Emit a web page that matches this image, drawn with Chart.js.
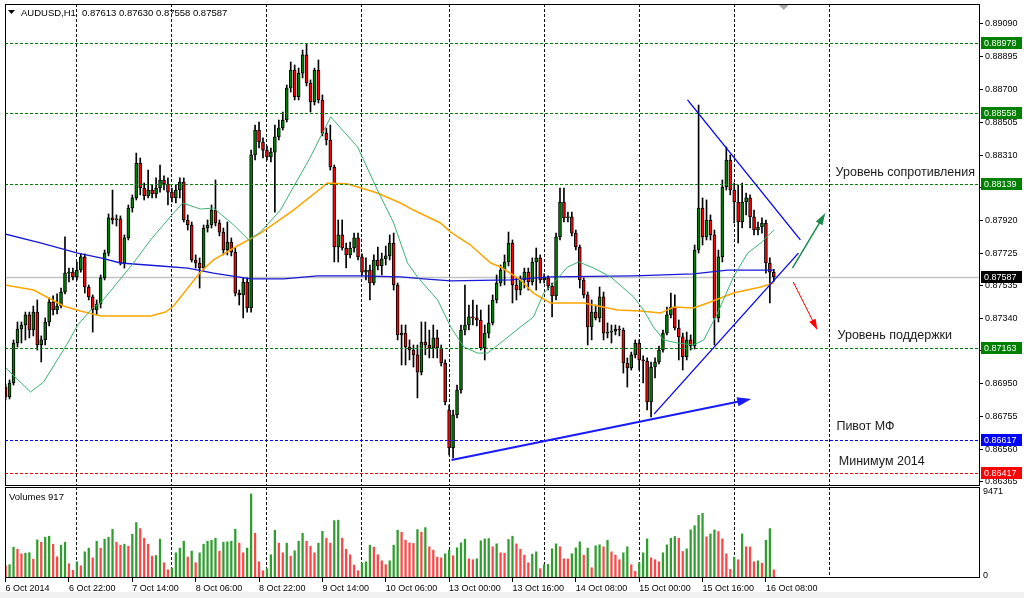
<!DOCTYPE html>
<html>
<head>
<meta charset="utf-8">
<title>AUDUSD H1</title>
<script src="https://cdn.jsdelivr.net/npm/chart.js@4.4.1/dist/chart.umd.min.js"></script>
<style>
  html, body { margin: 0; padding: 0; background: #fff; }
  #wrap { position: relative; width: 1024px; height: 598px; overflow: hidden; background: #fff; }
  #priceCanvas { position: absolute; left: 0; top: 0; }
  #volCanvas { position: absolute; left: 0; top: 487px; }
  #statusStrip { position: absolute; left: 0; top: 592px; width: 1024px; height: 6px; background: #f0f0f0; }
</style>
</head>
<body>
<div id="wrap">
  <canvas id="priceCanvas" width="1024" height="487"></canvas>
  <canvas id="volCanvas" width="1024" height="111"></canvas>
  <div id="statusStrip"></div>
</div>
<script>
// AUDUSD H1, bar 0 = 6 Oct 2014 06:00, one bar per hour
var opens = [
  0.86930,0.86871,0.86954,0.87192,0.87275,0.87299,0.87359,0.87269,0.87376,0.87180,
  0.87210,0.87317,0.87436,0.87388,0.87412,0.87495,0.87608,0.87614,0.87585,0.87626,
  0.87704,0.87525,0.87466,0.87388,0.87424,0.87579,0.87727,0.87936,0.87924,0.87930,
  0.87668,0.87817,0.87995,0.88055,0.88263,0.88114,0.88067,0.88102,0.88079,0.88114,
  0.88162,0.88138,0.88090,0.88055,0.88102,0.88150,0.87924,0.87894,0.87686,0.87668,
  0.87638,0.87876,0.87894,0.87983,0.87906,0.87852,0.87745,0.87793,0.87733,0.87489,
  0.87478,0.87555,0.87400,0.88311,0.88459,0.88388,0.88340,0.88299,0.88328,0.88418,
  0.88471,0.88519,0.88709,0.88816,0.88656,0.88798,0.88906,0.88739,0.88626,0.88816,
  0.88638,0.88441,0.88400,0.88239,0.87763,0.87835,0.87757,0.87716,0.87757,0.87817,
  0.87704,0.87614,0.87626,0.87549,0.87686,0.87650,0.87692,0.87710,0.87787,0.87537,
  0.87240,0.87251,0.87168,0.87150,0.87121,0.87019,0.87198,0.87180,0.87162,0.87222,
  0.87162,0.87073,0.86793,0.86567,0.86764,0.86912,0.87269,0.87299,0.87347,0.87341,
  0.87329,0.87162,0.87251,0.87311,0.87448,0.87549,0.87626,0.87674,0.87787,0.87537,
  0.87507,0.87567,0.87614,0.87555,0.87674,0.87698,0.87567,0.87579,0.87531,0.87472,
  0.87823,0.88031,0.87936,0.87942,0.87846,0.87763,0.87567,0.87478,0.87287,0.87376,
  0.87341,0.87466,0.87251,0.87257,0.87263,0.87275,0.87269,0.87073,0.87043,0.87121,
  0.87192,0.87091,0.87085,0.86841,0.87049,0.87079,0.87150,0.87251,0.87359,0.87406,
  0.87281,0.87228,0.87109,0.87210,0.87174,0.87745,0.87995,0.87823,0.87924,0.87835,
  0.87341,0.87704,0.88120,0.88281,0.88102,0.88031,0.87912,0.88031,0.88055,0.87942,
  0.87864,0.87882,0.87906,0.87668,0.87613
];
var highs = [
  0.86948,0.86972,0.87210,0.87317,0.87317,0.87376,0.87376,0.87412,0.87448,0.87234,
  0.87341,0.87460,0.87472,0.87484,0.87519,0.87823,0.87638,0.87638,0.87674,0.87722,
  0.87722,0.87537,0.87478,0.87448,0.87597,0.87745,0.87960,0.88102,0.87954,0.87948,
  0.87835,0.88013,0.88073,0.88322,0.88293,0.88144,0.88221,0.88132,0.88174,0.88251,
  0.88186,0.88174,0.88114,0.88132,0.88174,0.88174,0.87954,0.87912,0.87716,0.87698,
  0.87894,0.87924,0.88013,0.88162,0.87924,0.87876,0.87912,0.87817,0.87757,0.87507,
  0.87579,0.87579,0.88340,0.88489,0.88507,0.88412,0.88364,0.88352,0.88489,0.88519,
  0.88566,0.88727,0.88864,0.88846,0.88828,0.88935,0.88971,0.88757,0.88828,0.88876,
  0.88668,0.88471,0.88489,0.88251,0.87924,0.87924,0.87787,0.87793,0.87846,0.87846,
  0.87722,0.87698,0.87656,0.87716,0.87763,0.87727,0.87769,0.87835,0.87846,0.87549,
  0.87299,0.87299,0.87210,0.87180,0.87180,0.87317,0.87317,0.87269,0.87299,0.87269,
  0.87180,0.87091,0.86823,0.86793,0.86942,0.87299,0.87537,0.87418,0.87448,0.87418,
  0.87388,0.87299,0.87418,0.87478,0.87597,0.87656,0.87716,0.87852,0.87805,0.87579,
  0.87591,0.87638,0.87638,0.87698,0.87757,0.87716,0.87603,0.87591,0.87549,0.87846,
  0.88114,0.88114,0.87971,0.87971,0.87864,0.87775,0.87579,0.87495,0.87448,0.87418,
  0.87525,0.87495,0.87311,0.87299,0.87299,0.87293,0.87281,0.87103,0.87138,0.87210,
  0.87210,0.87115,0.87103,0.87079,0.87103,0.87174,0.87269,0.87406,0.87489,0.87478,
  0.87329,0.87251,0.87257,0.87240,0.87775,0.88608,0.88055,0.88043,0.87954,0.87864,
  0.87745,0.88162,0.88358,0.88311,0.88144,0.88132,0.88144,0.88084,0.88073,0.87983,
  0.87912,0.87936,0.87924,0.87698,0.87630
];
var lows = [
  0.86853,0.86859,0.86942,0.87168,0.87192,0.87210,0.87222,0.87234,0.87150,0.87079,
  0.87180,0.87293,0.87359,0.87365,0.87400,0.87484,0.87555,0.87567,0.87567,0.87614,
  0.87489,0.87448,0.87257,0.87359,0.87400,0.87567,0.87710,0.87900,0.87888,0.87656,
  0.87638,0.87805,0.87971,0.88043,0.88073,0.88043,0.88055,0.88055,0.88055,0.88090,
  0.88102,0.88013,0.88031,0.88025,0.88055,0.87912,0.87864,0.87674,0.87638,0.87519,
  0.87626,0.87852,0.87876,0.87888,0.87829,0.87716,0.87716,0.87710,0.87472,0.87418,
  0.87341,0.87376,0.87376,0.88281,0.88352,0.88293,0.88281,0.88269,0.87971,0.88400,
  0.88459,0.88507,0.88685,0.88638,0.88638,0.88769,0.88721,0.88566,0.88608,0.88620,
  0.88424,0.88370,0.88221,0.87674,0.87674,0.87745,0.87638,0.87698,0.87733,0.87686,
  0.87597,0.87567,0.87448,0.87537,0.87626,0.87597,0.87656,0.87686,0.87507,0.87210,
  0.87061,0.87061,0.87091,0.87049,0.86865,0.87002,0.87121,0.87103,0.87103,0.87103,
  0.87055,0.86823,0.86526,0.86508,0.86746,0.86894,0.87240,0.87269,0.87299,0.87293,
  0.87150,0.87091,0.87222,0.87299,0.87430,0.87531,0.87537,0.87650,0.87430,0.87448,
  0.87478,0.87519,0.87507,0.87537,0.87507,0.87549,0.87549,0.87507,0.87347,0.87448,
  0.87805,0.87912,0.87912,0.87829,0.87745,0.87519,0.87460,0.87180,0.87210,0.87329,
  0.87317,0.87210,0.87222,0.87192,0.87240,0.87234,0.87013,0.86930,0.87031,0.87103,
  0.87031,0.86954,0.86793,0.86752,0.86984,0.87067,0.87138,0.87240,0.87341,0.87269,
  0.87091,0.87031,0.87091,0.87150,0.87156,0.87727,0.87775,0.87805,0.87805,0.87180,
  0.87317,0.87674,0.88102,0.88073,0.87906,0.87787,0.87876,0.87954,0.87876,0.87835,
  0.87835,0.87846,0.87608,0.87430,0.87558
];
var closes = [
  0.86871,0.86954,0.87192,0.87275,0.87299,0.87359,0.87269,0.87376,0.87180,0.87210,
  0.87317,0.87436,0.87388,0.87412,0.87495,0.87608,0.87614,0.87585,0.87626,0.87704,
  0.87525,0.87466,0.87388,0.87424,0.87579,0.87727,0.87936,0.87924,0.87930,0.87668,
  0.87817,0.87995,0.88055,0.88263,0.88114,0.88067,0.88102,0.88079,0.88114,0.88162,
  0.88138,0.88090,0.88055,0.88102,0.88150,0.87924,0.87894,0.87686,0.87668,0.87638,
  0.87876,0.87894,0.87983,0.87906,0.87852,0.87745,0.87793,0.87733,0.87489,0.87478,
  0.87555,0.87400,0.88311,0.88459,0.88388,0.88340,0.88299,0.88328,0.88418,0.88471,
  0.88519,0.88709,0.88816,0.88656,0.88798,0.88906,0.88739,0.88626,0.88816,0.88638,
  0.88441,0.88400,0.88239,0.87763,0.87835,0.87757,0.87716,0.87757,0.87817,0.87704,
  0.87614,0.87626,0.87549,0.87686,0.87650,0.87692,0.87710,0.87787,0.87537,0.87240,
  0.87251,0.87168,0.87150,0.87121,0.87019,0.87198,0.87180,0.87162,0.87222,0.87162,
  0.87073,0.86841,0.86567,0.86764,0.86912,0.87269,0.87299,0.87347,0.87341,0.87329,
  0.87162,0.87251,0.87311,0.87448,0.87549,0.87626,0.87674,0.87787,0.87537,0.87507,
  0.87567,0.87614,0.87555,0.87674,0.87698,0.87567,0.87579,0.87531,0.87472,0.87823,
  0.88031,0.87936,0.87942,0.87846,0.87763,0.87567,0.87478,0.87287,0.87376,0.87341,
  0.87466,0.87251,0.87257,0.87263,0.87275,0.87269,0.87073,0.87043,0.87121,0.87192,
  0.87091,0.87085,0.86841,0.87049,0.87079,0.87150,0.87251,0.87359,0.87406,0.87281,
  0.87228,0.87109,0.87210,0.87174,0.87745,0.87995,0.87823,0.87924,0.87835,0.87341,
  0.87704,0.88120,0.88281,0.88102,0.88031,0.87912,0.88031,0.88055,0.87942,0.87864,
  0.87882,0.87906,0.87668,0.87614,0.87587
];
var volumes = [
  1380,1500,3480,3250,2730,2800,2850,2130,4300,4040,
  4600,4710,3810,2390,3700,4040,1610,860,1830,1380,
  2950,3370,2280,4150,3370,4380,4600,5500,4040,3700,
  3810,3590,4940,6250,5570,4490,3810,2470,2540,4380,
  1720,935,1120,2840,3370,4150,2360,3030,1720,2840,
  3810,4150,4260,4490,3030,4040,4080,4150,5500,3930,
  2840,3370,9471,5050,1830,820,1050,2620,5390,3930,
  2840,3930,2470,3070,4150,5050,4150,3590,2840,3930,
  5270,4490,3930,6470,6520,4490,3250,2620,1460,820,
  1680,1830,3700,3480,2620,1940,1500,1940,3700,5390,
  5160,4260,3960,3900,5460,5160,5680,3520,3140,2360,
  2280,2730,3140,2510,3400,3960,4380,2170,2060,2170,
  4190,4410,4450,3520,3850,2840,2800,4340,4710,3850,
  3250,2580,1720,2690,2950,1050,1500,1530,3290,3850,
  3520,2170,2150,2730,3400,4080,2580,3370,1160,3630,
  3740,3520,4260,2950,2580,2060,2840,3520,1500,750,
  1720,2840,4410,2280,2060,1830,2840,3740,4490,4680,
  4490,2990,3290,5420,5900,7070,7290,4640,4970,5420,
  5240,4410,2730,970,2360,2060,4970,3520,3500,1830,
  1940,1680,4260,5570,917
];

// moving averages: [bar, price]
var maFast = [
  [-0.2,0.87049],[6.3,0.86900],[9.6,0.86960],[15.7,0.87192],[18.2,0.87299],[22.2,0.87406],[24,0.87430],
  [32.3,0.87668],[36.6,0.87805],[42.4,0.87965],[44.7,0.88025],[49.2,0.87989],[52.5,0.87995],[57.6,0.87894],
  [61.4,0.87805],[64.4,0.87852],[69.4,0.87983],[77,0.88299],[80,0.88441],[82.1,0.88537],[88.9,0.88358],
  [90.4,0.88281],[93.9,0.88102],[98,0.87906],[101.5,0.87668],[104,0.87585],[109.1,0.87448],[112.4,0.87287],
  [115.7,0.87168],[119.2,0.87132],[121.7,0.87132],[125,0.87192],[130,0.87287],[133.3,0.87347],[135.9,0.87489],
  [138.4,0.87549],[141.9,0.87644],[144.7,0.87674],[148.5,0.87638],[152.8,0.87585],[158.6,0.87466],[161.1,0.87388],
  [163.6,0.87287],[166.2,0.87210],[169.7,0.87192],[173.7,0.87180],[176.3,0.87210],[179.8,0.87370],[183.8,0.87585],
  [187.4,0.87727],[190.7,0.87787],[194,0.87864]
];
var maMid = [
  [-0.2,0.87537],[7.1,0.87507],[14.6,0.87412],[18.9,0.87382],[24,0.87353],[36.6,0.87353],[40.4,0.87376],
  [42.4,0.87412],[49.2,0.87614],[52.5,0.87686],[57.6,0.87757],[64.4,0.87846],[72.7,0.87983],[81.3,0.88144],
  [86.4,0.88138],[93.9,0.88084],[99.7,0.88025],[103,0.87983],[109.8,0.87906],[112.4,0.87852],[117.4,0.87775],
  [122.5,0.87668],[125,0.87644],[130,0.87567],[133.3,0.87489],[137.6,0.87430],[146,0.87430],[154.5,0.87388],
  [160.4,0.87382],[165.4,0.87370],[168.7,0.87406],[173.7,0.87400],[177.3,0.87430],[183.8,0.87489],
  [190.7,0.87525],[194,0.87549]
];
var maSlow = [
  [-0.2,0.87841],[8.8,0.87787],[18.2,0.87727],[24,0.87698],[29,0.87668],[39.1,0.87650],[46,0.87638],
  [52.5,0.87608],[61.9,0.87573],[70.2,0.87573],[78.8,0.87591],[89.6,0.87591],[99.7,0.87585],[105.6,0.87573],
  [112.4,0.87561],[127.5,0.87567],[137.6,0.87585],[158.6,0.87591],[173.7,0.87603],[182.3,0.87626],[194,0.87626]
];

var priceTicks = [0.89090,0.88895,0.88700,0.88505,0.88310,0.88115,0.87920,0.87725,0.87535,0.87340,0.87145,0.86950,0.86755,0.86560,0.86365];
var volTicks = [0, 9471];
var dayStartBars = [18, 42, 66, 90, 112, 136, 160, 184, 208];
var timeLabelBars = [0, 16, 32, 48, 64, 80, 96, 112, 128, 144, 160, 176, 192];
var timeLabels = ['6 Oct 2014','6 Oct 22:00','7 Oct 14:00','8 Oct 06:00','8 Oct 22:00','9 Oct 14:00','10 Oct 06:00',
                  '13 Oct 00:00','13 Oct 16:00','14 Oct 08:00','15 Oct 00:00','15 Oct 16:00','16 Oct 08:00'];

var levels = [0.88978, 0.88558, 0.88139, 0.87163, 0.86617, 0.86417];
var levelColors = ['#008000', '#008000', '#008000', '#008000', '#0000ff', '#ff0000'];

var notes = [
  { text: 'Уровень сопротивления', bar: 209.6, price: 0.88204 },
  { text: 'Уровень поддержки', bar: 210.1, price: 0.87234 },
  { text: 'Пивот МФ', bar: 209.8, price: 0.86692 },
  { text: 'Минимум 2014', bar: 210.4, price: 0.86484 }
];
var drawnLines = [
  { from: [172.2, 0.88638], to: [200.7, 0.87805], color: '#0000ff', width: 1.3, head: 0 },
  { from: [163.8, 0.86770], to: [200.2, 0.87727], color: '#0000ff', width: 1.3, head: 0 },
  { from: [112.6, 0.86496], to: [188.3, 0.86859], color: '#1a1aff', width: 2, head: 14 },
  { from: [198.7, 0.87638], to: [207.0, 0.87965], color: '#1b8a4c', width: 1.5, head: 12 },
  { from: [198.9, 0.87555], to: [205.0, 0.87269], color: '#ff0000', width: 1, head: 11 }
];

var XMIN = -0.15, XMAX = 245.81;
var YMIN = 0.86341, YMAX = 0.89209;
var VMAX = 10260;
var FONT = '"Liberation Sans", Arial, sans-serif';

Chart.defaults.font.family = FONT;
Chart.defaults.font.size = 9;
Chart.defaults.color = '#000';

var last = closes.length - 1;
var barIdx = closes.map(function (c, i) { return i; });

function noPad(scale) {
  scale.paddingTop = 0; scale.paddingBottom = 0; scale.paddingLeft = 0; scale.paddingRight = 0;
}

function toXY(list) {
  return list.map(function (p) { return { x: p[0], y: p[1] }; });
}

// black frame round a pane
var framePlugin = {
  id: 'paneFrame',
  afterDraw: function (chart) {
    var a = chart.chartArea, ctx = chart.ctx;
    ctx.save();
    ctx.strokeStyle = '#000';
    ctx.lineWidth = 1;
    ctx.strokeRect(a.left + 0.5, a.top + 0.5, a.right - a.left, a.bottom - a.top - 1);
    ctx.restore();
  }
};

// bid line, level lines, trend lines and texts
var overlayPlugin = {
  id: 'overlays',
  beforeDatasetsDraw: function (chart) {
    var ctx = chart.ctx, a = chart.chartArea;
    var y = Math.round(chart.scales.y.getPixelForValue(closes[last])) + 0.5;
    ctx.save();
    ctx.strokeStyle = '#c4c4c4';
    ctx.lineWidth = 1.5;
    ctx.beginPath(); ctx.moveTo(a.left, y); ctx.lineTo(a.right, y); ctx.stroke();
    ctx.restore();
  },
  afterDatasetsDraw: function (chart) {
    var ctx = chart.ctx, a = chart.chartArea, xs = chart.scales.x, ys = chart.scales.y;
    ctx.save();
    ctx.beginPath(); ctx.rect(a.left, a.top, a.right - a.left, a.bottom - a.top); ctx.clip();

    levels.forEach(function (v, k) {
      var y = Math.round(ys.getPixelForValue(v)) + 0.5;
      ctx.strokeStyle = levelColors[k];
      ctx.lineWidth = 1;
      ctx.setLineDash([3, 2]);
      ctx.beginPath(); ctx.moveTo(a.left, y); ctx.lineTo(a.right, y); ctx.stroke();
    });
    ctx.setLineDash([]);

    drawnLines.forEach(function (l) {
      var x1 = xs.getPixelForValue(l.from[0]), y1 = ys.getPixelForValue(l.from[1]);
      var x2 = xs.getPixelForValue(l.to[0]), y2 = ys.getPixelForValue(l.to[1]);
      var ang = Math.atan2(y2 - y1, x2 - x1);
      var ex = x2, ey = y2;
      if (l.head) { ex = x2 - Math.cos(ang) * l.head * 0.8; ey = y2 - Math.sin(ang) * l.head * 0.8; }
      ctx.strokeStyle = l.color;
      ctx.lineWidth = l.width;
      ctx.beginPath(); ctx.moveTo(x1, y1); ctx.lineTo(ex, ey); ctx.stroke();
      if (l.head) {
        var hw = l.head * 0.32;
        ctx.fillStyle = l.color;
        ctx.beginPath();
        ctx.moveTo(x2, y2);
        ctx.lineTo(x2 - Math.cos(ang) * l.head - Math.sin(ang) * hw, y2 - Math.sin(ang) * l.head + Math.cos(ang) * hw);
        ctx.lineTo(x2 - Math.cos(ang) * l.head + Math.sin(ang) * hw, y2 - Math.sin(ang) * l.head - Math.cos(ang) * hw);
        ctx.closePath();
        ctx.fill();
      }
    });

    ctx.fillStyle = '#1a1a1a';
    ctx.font = '12.5px ' + FONT;
    ctx.textBaseline = 'middle';
    notes.forEach(function (n) {
      ctx.fillText(n.text, xs.getPixelForValue(n.bar), ys.getPixelForValue(n.price));
    });
    ctx.restore();
  },
  afterDraw: function (chart) {
    var ctx = chart.ctx, a = chart.chartArea, xs = chart.scales.x, ys = chart.scales.y;
    ctx.save();
    // price boxes on the axis
    ctx.font = '9px ' + FONT;
    ctx.textBaseline = 'middle';
    var boxes = levels.map(function (v, k) { return { v: v, bg: levelColors[k] }; });
    boxes.push({ v: closes[last], bg: '#000' });
    boxes.forEach(function (b) {
      var y = Math.round(ys.getPixelForValue(b.v));
      ctx.fillStyle = b.bg;
      ctx.fillRect(a.right + 2, y - 6, 41, 12);
      ctx.fillStyle = '#fff';
      ctx.fillText(b.v.toFixed(5), a.right + 5, y + 0.5);
    });
    // header
    ctx.fillStyle = '#000';
    ctx.beginPath();
    ctx.moveTo(a.left + 3, 10); ctx.lineTo(a.left + 10, 10); ctx.lineTo(a.left + 6.5, 14);
    ctx.closePath(); ctx.fill();
    ctx.font = '9.5px ' + FONT;
    ctx.fillText('AUDUSD,H1', a.left + 16, 13);
    ctx.fillText([opens[last], highs[last], lows[last], closes[last]].map(function (v) { return v.toFixed(5); }).join(' '), a.left + 77, 13);
    // chart shift marker
    var sx = xs.getPixelForValue(196.5);
    ctx.fillStyle = '#a8a8a8';
    ctx.beginPath();
    ctx.moveTo(sx - 5, a.top + 1); ctx.lineTo(sx + 5, a.top + 1); ctx.lineTo(sx, a.top + 6);
    ctx.closePath(); ctx.fill();
    ctx.restore();
  }
};

var volLabelPlugin = {
  id: 'volLabel',
  afterDraw: function (chart) {
    var ctx = chart.ctx, a = chart.chartArea;
    ctx.save();
    ctx.fillStyle = '#000';
    ctx.font = '9.5px ' + FONT;
    ctx.textBaseline = 'middle';
    ctx.fillText('Volumes ' + volumes[last], a.left + 4, a.top + 10);
    ctx.restore();
  }
};

var bodyColors = barIdx.map(function (i) { return closes[i] >= opens[i] ? '#008000' : '#ff0000'; });

new Chart(document.getElementById('priceCanvas'), {
  data: {
    datasets: [
      {
        type: 'bar', label: 'wicks',
        data: barIdx.map(function (i) { return { x: i, y: [lows[i], highs[i]] }; }),
        backgroundColor: '#000', borderWidth: 0, barThickness: 1, grouped: false, order: 5
      },
      {
        type: 'bar', label: 'bodies',
        data: barIdx.map(function (i) { return { x: i, y: [opens[i], closes[i]] }; }),
        backgroundColor: bodyColors, borderColor: '#000', borderWidth: 1, borderSkipped: false,
        barThickness: 3, minBarLength: 1, grouped: false, order: 4
      },
      { type: 'line', label: 'MA slow', data: toXY(maSlow), borderColor: '#1818d8', borderWidth: 1.3, pointRadius: 0, tension: 0, order: 3 },
      { type: 'line', label: 'MA mid', data: toXY(maMid), borderColor: '#ffa500', borderWidth: 1.5, pointRadius: 0, tension: 0, order: 2 },
      { type: 'line', label: 'MA fast', data: toXY(maFast), borderColor: '#3cb371', borderWidth: 1, pointRadius: 0, tension: 0, order: 1 }
    ]
  },
  options: {
    responsive: false, animation: false, events: [],
    layout: { padding: { left: 5, top: 4, right: 0, bottom: 1 } },
    plugins: { legend: { display: false }, tooltip: { enabled: false } },
    scales: {
      x: {
        type: 'linear', min: XMIN, max: XMAX, offset: false,
        afterBuildTicks: function (s) { s.ticks = dayStartBars.map(function (v) { return { value: v }; }); },
        afterFit: function (s) { s.height = 0; noPad(s); },
        ticks: { display: false },
        grid: { color: '#111', lineWidth: 1, drawTicks: false, offset: false },
        border: { display: false, dash: [3, 2] }
      },
      y: {
        type: 'linear', position: 'right', min: YMIN, max: YMAX, beginAtZero: false,
        afterBuildTicks: function (s) { s.ticks = priceTicks.map(function (v) { return { value: v }; }); },
        afterFit: function (s) { s.width = 45; noPad(s); },
        ticks: { padding: 2, callback: function (v) { return Number(v).toFixed(5); } },
        grid: { drawOnChartArea: false, drawTicks: true, tickLength: 4, tickColor: '#000' },
        border: { display: false }
      }
    }
  },
  plugins: [overlayPlugin, framePlugin]
});

new Chart(document.getElementById('volCanvas'), {
  data: {
    datasets: [{
      type: 'bar', label: 'Volumes',
      data: barIdx.map(function (i) { return { x: i, y: volumes[i] }; }),
      backgroundColor: barIdx.map(function (i) { return i > 0 && volumes[i] > volumes[i - 1] ? '#2f9e2f' : '#ff4646'; }),
      borderWidth: 0, barThickness: 1.6, grouped: false
    }]
  },
  options: {
    responsive: false, animation: false, events: [],
    layout: { padding: { left: 5, top: 0, right: 0, bottom: 0 } },
    plugins: { legend: { display: false }, tooltip: { enabled: false } },
    scales: {
      x: {
        type: 'linear', min: XMIN, max: XMAX, offset: false,
        afterBuildTicks: function (s) { s.ticks = dayStartBars.map(function (v) { return { value: v }; }); },
        afterFit: function (s) { s.height = 0; noPad(s); },
        ticks: { display: false },
        grid: { color: '#111', lineWidth: 1, drawTicks: false, offset: false },
        border: { display: false, dash: [3, 2] }
      },
      x2: {
        type: 'linear', position: 'bottom', min: XMIN, max: XMAX, offset: false,
        afterBuildTicks: function (s) { s.ticks = timeLabelBars.map(function (v) { return { value: v }; }); },
        afterFit: function (s) { s.height = 20; noPad(s); },
        ticks: {
          align: 'start', autoSkip: false, maxRotation: 0, minRotation: 0, padding: 1,
          callback: function (v, k) { return timeLabels[k]; }
        },
        grid: { drawOnChartArea: false, drawTicks: true, tickLength: 4, tickColor: '#000' },
        border: { display: false }
      },
      y: {
        type: 'linear', position: 'right', min: 0, max: VMAX, beginAtZero: true,
        afterBuildTicks: function (s) { s.ticks = volTicks.map(function (v) { return { value: v }; }); },
        afterFit: function (s) { s.width = 45; noPad(s); },
        ticks: { padding: 4, labelOffset: -2, callback: function (v) { return String(v); } },
        grid: { drawOnChartArea: false, drawTicks: false },
        border: { display: false }
      }
    }
  },
  plugins: [volLabelPlugin, framePlugin]
});
</script>
</body>
</html>
